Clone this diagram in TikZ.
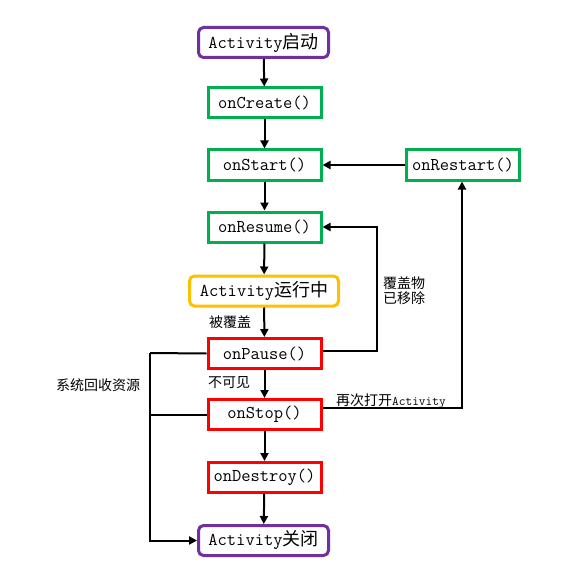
\documentclass[tikz,border=0pt]{standalone}
\usepackage{fontspec}
\setmonofont{Latin Modern Mono}
\newfontfamily\cjk{Noto Sans CJK SC}
\usetikzlibrary{arrows.meta}
\definecolor{cpurple}{HTML}{7030A0}
\definecolor{cgreen}{HTML}{00B050}
\definecolor{cred}{HTML}{FF0000}
\definecolor{corange}{HTML}{FFC000}
\newcommand\zh[1]{{\cjk #1}}
\tikzset{
  box/.style={draw, line width=3pt, minimum width=113pt, minimum height=30pt,
    inner sep=0pt, font=\ttfamily\fontsize{18}{20}\selectfont},
  endbox/.style={box, draw=cpurple, rounded corners=5pt, minimum width=130pt},
  greenbox/.style={box, draw=cgreen},
  redbox/.style={box, draw=cred},
  runbox/.style={box, draw=corange, rounded corners=5pt, minimum width=149pt},
  conn/.style={line width=2pt, -{Triangle[length=8pt,width=8pt]}},
  plain/.style={line width=2pt},
  lbl/.style={font=\cjk\fontsize{14}{16}\selectfont, inner sep=0pt}
}
\begin{document}
\begin{tikzpicture}[x=1pt, y=-1pt]
  \useasboundingbox[fill=white] (0,0) rectangle (580,580);

  % lifecycle states
  \node[endbox]   (start)   at (263.5,42.5)  {Activity\zh{启动}};
  \node[greenbox] (create)  at (264.5,103)   {onCreate()};
  \node[greenbox] (onstart) at (264.5,165)   {onStart()};
  \node[greenbox] (restart) at (463,165)     {onRestart()};
  \node[greenbox] (resume)  at (264.5,227)   {onResume()};
  \node[runbox]   (running) at (264,291)     {Activity\zh{运行中}};
  \node[redbox]   (pause)   at (264.5,353.5) {onPause()};
  \node[redbox]   (stop)    at (264.5,414.5) {onStop()};
  \node[redbox]   (destroy) at (264.5,477.5) {onDestroy()};
  \node[endbox]   (closed)  at (263.5,540.5) {Activity\zh{关闭}};

  % main sequence
  \draw[conn] (start) -- (create);
  \draw[conn] (create) -- (onstart);
  \draw[conn] (onstart) -- (resume);
  \draw[conn] (resume) -- (running);
  \draw[conn] (running) -- (pause);
  \draw[conn] (pause) -- (stop);
  \draw[conn] (stop) -- (destroy);
  \draw[conn] (destroy) -- (closed);

  % restart and resume loops
  \draw[conn] (restart) -- (onstart);
  \coordinate (rtop) at (377,227);
  \coordinate (rbot) at (377,351);
  \draw[conn] (pause.east |- rbot) -- (rbot) -- (rtop) -- (resume.east);
  \coordinate (sright) at (462,408);
  \draw[conn] (stop.east |- sright) -- (sright) -- (restart.south -| sright);

  % resources reclaimed by the system
  \coordinate (ltop) at (150,353);
  \coordinate (lbot) at (150,540.5);
  \draw[plain] (pause.west) -- (ltop);
  \draw[plain] (stop.west) -- (stop.west -| ltop);
  \draw[conn] (ltop) -- (lbot) -- (closed.west);

  % labels
  \node[lbl] (l1) at (230,322) {被覆盖};
  \node[lbl] (l2) at (229,383) {不可见};
  \node[lbl, anchor=west] (l3) at (383,283) {覆盖物};
  \node[lbl, anchor=west] (l4) at (383,298) {已移除};
  \node[lbl] (l5) at (98,385) {系统回收资源};
  \node[lbl, anchor=west] (l6) at (336,401) {再次打开{\ttfamily\fontsize{13}{15}\selectfont Activity}};
\end{tikzpicture}
\end{document}
